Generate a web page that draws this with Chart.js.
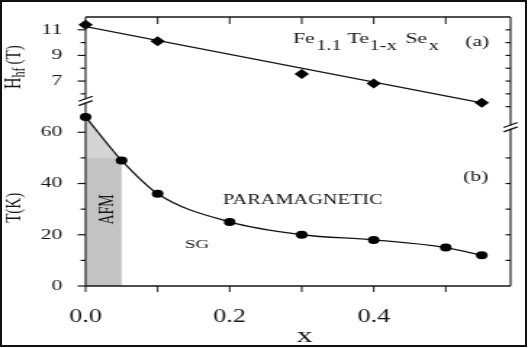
<!DOCTYPE html>
<html>
<head>
<meta charset="utf-8">
<script src="https://cdn.jsdelivr.net/npm/chart.js@4.4.1/dist/chart.umd.min.js"></script>
<style>
  html, body { margin: 0; padding: 0; background: #fff; }
  #wrap { position: absolute; left: 0; top: 0; width: 364px; height: 348px;
          transform: scaleX(1.4505); transform-origin: 0 0; }
  #frame { position: absolute; left: 0; top: 0; width: 523px; height: 343px;
           border: 2px solid #111; pointer-events: none; }
</style>
</head>
<body>
<div id="wrap"><canvas id="chart" width="364" height="348"></canvas></div>
<div id="frame"></div>
<script>
// canvas is drawn narrow and widened by CSS, so x lengths are divided by this
const STRETCH = 528 / 364;
const SERIF = '"Liberation Serif", "DejaVu Serif", serif';
const INK = '#141414';

// (a) hyperfine field vs Se content
const hfX = [0, 0.1, 0.3, 0.4, 0.55];
const hfValues = [11.4, 10.1, 7.55, 6.8, 5.3];
const hfFitX = [0, 0.55];
const hfFitValues = [11.25, 5.3];

// (b) transition temperature vs Se content
const tX = [0, 0.05, 0.1, 0.2, 0.3, 0.4, 0.5, 0.55];
const tValues = [66, 49, 36, 25, 20, 18, 15, 12];

// AFM region, 0 <= x <= 0.05
const afmX = [0, 0.05];
const afmEdge = [66, 49];
const afmBlock = [50, 50];

// ticks
const xTicks = [0, 0.1, 0.2, 0.3, 0.4, 0.5];
const xLabels = ['0.0', '', '0.2', '', '0.4', ''];
const hfTicks = [6, 7, 8, 9, 10, 11];
const hfLabelTicks = [7, 9, 11];
const hfRightTicks = [5, 6, 7, 8, 9, 10, 11];
const tTicks = [0, 10, 20, 30, 40, 50, 60];
const tLabelTicks = [0, 20, 40, 60];
const tRightTicks = [10, 20, 30, 40, 50];

const pts = (xs, ys) => xs.map((x, i) => ({ x, y: ys[i] }));

function line(ctx, x1, y1, x2, y2) {
  ctx.beginPath();
  ctx.moveTo(x1, y1);
  ctx.lineTo(x2, y2);
  ctx.stroke();
}

function drawBreak(ctx, x, y) {
  const hw = 7 / STRETCH, rise = 2.5, gap = 2.2;
  ctx.fillStyle = '#fff';
  ctx.fillRect(x - 1.2, y - gap + 0.6, 2.4, 2 * gap - 1.2);
  ctx.lineWidth = 1.3;
  [-gap, gap].forEach(d => line(ctx, x - hw, y + d + rise, x + hw, y + d - rise));
}

function text(ctx, str, x, y, size, align) {
  ctx.font = size + 'px ' + SERIF;
  ctx.textAlign = align || 'left';
  ctx.fillText(str, x, y);
  return ctx.measureText(str).width;
}

// sequence of [string, isSubscript, gap after] drawn left to right
function formula(ctx, parts, x, y) {
  parts.forEach(([str, sub, gap]) => {
    x += text(ctx, str, x, sub ? y + 7 : y, sub ? 14 : 15) + gap;
  });
}

const decor = {
  id: 'decor',
  afterDatasetsDraw(chart) {
    const { ctx, chartArea: a, scales } = chart;
    const { x, yT, yB } = scales;
    ctx.save();
    ctx.strokeStyle = INK;

    // frame
    ctx.lineWidth = 1.4;
    line(ctx, a.left, a.top, a.right, a.top);
    line(ctx, a.left, a.bottom, a.right, a.bottom);
    ctx.lineWidth = 1.1;
    line(ctx, a.left, a.top, a.left, a.bottom);
    line(ctx, a.right, a.top, a.right, a.bottom);

    // x ticks, top ones point inward
    ctx.lineWidth = 1;
    xTicks.forEach(v => {
      const px = x.getPixelForValue(v);
      line(ctx, px, a.bottom, px, a.bottom + 6);
      if (v > 0) line(ctx, px, a.top, px, a.top + 7);
    });

    // left ticks outward, right ticks inward
    ctx.lineWidth = 1.2;
    const major = 8 / STRETCH, minor = 5 / STRETCH;
    hfTicks.forEach(v => {
      const py = yT.getPixelForValue(v);
      line(ctx, a.left, py, a.left - (hfLabelTicks.includes(v) ? major : minor), py);
    });
    tTicks.forEach(v => {
      const py = yB.getPixelForValue(v);
      line(ctx, a.left, py, a.left - (tLabelTicks.includes(v) ? major : minor), py);
    });
    hfRightTicks.forEach(v => {
      const py = yT.getPixelForValue(v);
      line(ctx, a.right, py, a.right - minor, py);
    });
    tRightTicks.forEach(v => {
      const py = yB.getPixelForValue(v);
      line(ctx, a.right, py, a.right - minor, py);
    });

    // axis breaks
    drawBreak(ctx, a.left, yT.getPixelForValue(5.45));
    drawBreak(ctx, a.right, yB.getPixelForValue(62));
    ctx.restore();
  },
  afterDraw(chart) {
    const { ctx, scales } = chart;
    const { x, yT, yB } = scales;
    ctx.save();
    ctx.fillStyle = INK;
    ctx.textBaseline = 'alphabetic';

    formula(ctx, [['Fe', false, 1], ['1.1', true, 4], ['Te', false, 0.5],
                  ['1-x', true, 6], ['Se', false, 1], ['x', true, 0]],
            x.getPixelForValue(0.288), yT.getPixelForValue(9.94));
    text(ctx, '(a)', x.getPixelForValue(0.527), yT.getPixelForValue(9.76), 15);
    text(ctx, '(b)', x.getPixelForValue(0.524), yB.getPixelForValue(40.8), 15);
    text(ctx, 'PARAMAGNETIC', x.getPixelForValue(0.191), yB.getPixelForValue(32.2), 14);
    text(ctx, 'SG', x.getPixelForValue(0.138), yB.getPixelForValue(14.75), 13);

    // AFM, rotated
    ctx.save();
    ctx.translate(x.getPixelForValue(0.03), yB.getPixelForValue(29.9));
    ctx.rotate(-Math.PI / 2);
    ctx.textBaseline = 'middle';
    text(ctx, 'AFM', 0, 0, 14, 'center');
    ctx.restore();

    // y titles
    ctx.save();
    ctx.translate(15 / STRETCH, yB.getPixelForValue(30.5));
    ctx.rotate(-Math.PI / 2);
    ctx.textBaseline = 'middle';
    text(ctx, 'T(K)', 0, 0, 15, 'center');
    ctx.restore();

    ctx.save();
    ctx.translate(14 / STRETCH, 89);
    ctx.rotate(-Math.PI / 2);
    ctx.textBaseline = 'middle';
    let off = text(ctx, 'H', 0, 0, 16);
    off += text(ctx, 'hf', off, 4, 12) + 3;
    text(ctx, '(T)', off, 0, 15);
    ctx.restore();

    // x title
    ctx.textBaseline = 'alphabetic';
    text(ctx, 'x', x.getPixelForValue(0.304), 342, 22, 'center');
    ctx.restore();
  }
};

new Chart(document.getElementById('chart'), {
  type: 'line',
  data: {
    datasets: [
      {
        label: 'T', data: pts(tX, tValues), yAxisID: 'yB',
        borderColor: INK, borderWidth: 1.3, cubicInterpolationMode: 'monotone',
        pointRadius: 4, pointBackgroundColor: '#000', pointBorderColor: '#000', pointBorderWidth: 0,
        clip: false, order: 0
      },
      {
        label: 'Hhf', data: pts(hfX, hfValues), yAxisID: 'yT', showLine: false,
        pointStyle: 'rectRot', pointRadius: 5,
        pointBackgroundColor: '#000', pointBorderColor: '#000', pointBorderWidth: 0,
        clip: false, order: 0
      },
      {
        label: 'Hhf fit', data: pts(hfFitX, hfFitValues), yAxisID: 'yT',
        borderColor: INK, borderWidth: 1.3, pointRadius: 0, order: 1
      },
      {
        label: 'AFM block', data: pts(afmX, afmBlock), yAxisID: 'yB',
        fill: 'origin', backgroundColor: '#c3c3c3', borderColor: 'rgba(0,0,0,0)',
        borderWidth: 0, pointRadius: 0, order: 2
      },
      {
        label: 'AFM edge', data: pts(afmX, afmEdge), yAxisID: 'yB',
        fill: 'origin', backgroundColor: '#d4d4d4', borderColor: 'rgba(0,0,0,0)',
        borderWidth: 0, pointRadius: 0, order: 3
      }
    ]
  },
  options: {
    responsive: false,
    animation: false,
    events: [],
    devicePixelRatio: 1,
    layout: { padding: { left: 0, right: 12, top: 15, bottom: 0 } },
    plugins: { legend: { display: false }, tooltip: { enabled: false } },
    scales: {
      x: {
        type: 'linear', min: 0, max: 0.59,
        grid: { display: false }, border: { display: false },
        afterBuildTicks: s => { s.ticks = xTicks.map(value => ({ value })); },
        afterFit: s => { s.height = 62; },
        ticks: { callback: (v, i) => xLabels[i], padding: 12, color: INK, maxRotation: 0,
                 font: { family: SERIF, size: 18 } }
      },
      yB: {
        type: 'linear', position: 'left', stack: 'left', stackWeight: 2, min: 0, max: 70,
        grid: { display: false }, border: { display: false },
        afterBuildTicks: s => { s.ticks = tLabelTicks.map(value => ({ value })); },
        afterFit: s => { s.width = 59; },
        ticks: { padding: 8, color: INK, font: { family: SERIF, size: 15 } }
      },
      yT: {
        type: 'linear', position: 'left', stack: 'left', stackWeight: 1, min: 5, max: 12,
        grid: { display: false }, border: { display: false },
        afterBuildTicks: s => { s.ticks = hfLabelTicks.map(value => ({ value })); },
        afterFit: s => { s.width = 59; },
        ticks: { padding: 8, color: INK, font: { family: SERIF, size: 15 } }
      }
    }
  },
  plugins: [decor]
});
</script>
</body>
</html>
